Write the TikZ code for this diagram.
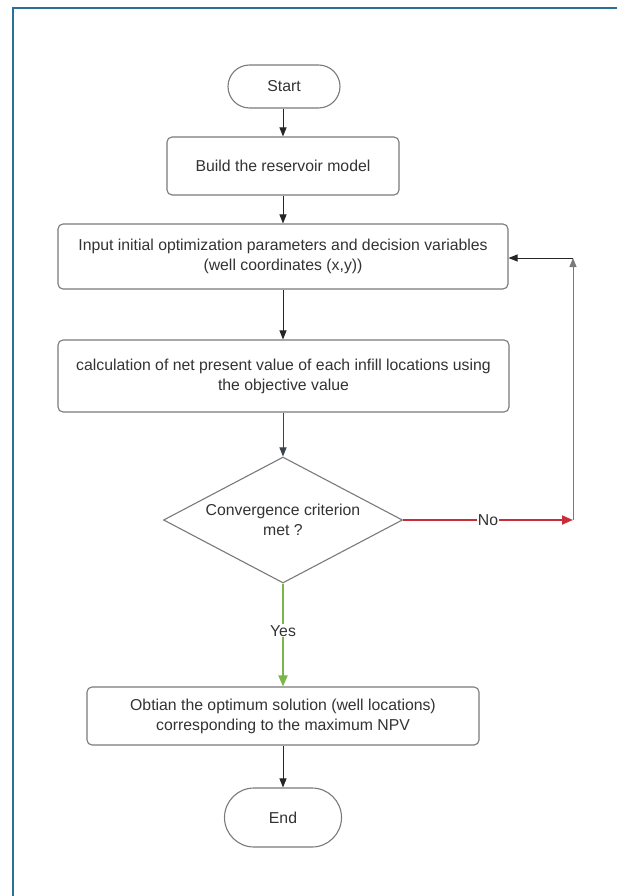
\documentclass[tikz,border=0pt]{standalone}
\usepackage{fontspec}
\setmainfont{Liberation Sans}
\usetikzlibrary{shapes.geometric,shapes.misc,arrows.meta}
\definecolor{frameblue}{HTML}{2B7096}
\definecolor{boxgray}{HTML}{7A7A7A}
\definecolor{txt}{HTML}{333333}
\definecolor{lred}{HTML}{C92D39}
\definecolor{lgreen}{HTML}{7AB648}
\definecolor{slate}{HTML}{3A4450}
\tikzset{
  every node/.style={font=\fontsize{15.8pt}{20pt}\selectfont, text=txt},
  procbox/.style={draw=boxgray, line width=1.1pt, rounded corners=5pt, align=center, inner sep=0pt, fill=white},
  terminal/.style={draw=boxgray, line width=1.1pt, rounded rectangle, align=center, inner sep=0pt, fill=white},
  decision/.style={draw=boxgray, line width=1.1pt, diamond, aspect=1.9, align=center, inner sep=0pt, fill=white},
  flow/.style={line width=1pt, draw=black!85, -{Triangle[length=9pt,width=7pt]}},
  lbl/.style={fill=white, inner sep=1pt}
}
\begin{document}
\begin{tikzpicture}[x=1pt,y=-1pt]
\useasboundingbox (0,0) rectangle (616,896);
\fill[white] (0,0) rectangle (616,896);
\draw[frameblue, line width=1.6pt] (13,900) -- (13,8) -- (620,8);

\node[terminal, minimum width=112pt, minimum height=43pt] (start) at (284,86.5) {Start};
\node[procbox, minimum width=232pt, minimum height=58pt] (build) at (283,166) {Build the reservoir model};
\node[procbox, minimum width=450pt, minimum height=65pt] (input) at (283,256.5) {Input initial optimization parameters and decision variables\\(well coordinates (x,y))};
\node[procbox, minimum width=451pt, minimum height=72pt] (calc) at (283.5,376) {calculation of net present value of each infill locations using\\the objective value};
\node[decision, minimum width=239pt, minimum height=126pt] (conv) at (283,520) {Convergence criterion\\met ?};
\node[procbox, minimum width=392pt, minimum height=58pt] (opt) at (283,716) {Obtian the optimum solution (well locations)\\corresponding to the maximum NPV};
\node[terminal, minimum width=117pt, minimum height=59pt] (end) at (283,817.5) {End};

\coordinate (c1) at (573,520);
\coordinate (c2) at (573,258);

\draw[flow] (start.south -| build.north) -- (build.north);
\draw[flow] (build.south) -- (input.north);
\draw[flow] (input.south) -- (calc.north -| input.south);
\draw[flow, draw=slate] (calc.south -| conv.north) -- (conv.north);
\draw[flow, draw=lred, line width=1.8pt, -{Triangle[length=11pt,width=9pt]}] (conv.east) -- node[lbl, pos=0.5] {No} (c1);
\draw[flow, draw=boxgray] (c1) -- (c2);
\draw[flow] (c2) -- (c2 -| input.east);
\draw[flow, draw=lgreen, line width=1.8pt, -{Triangle[length=11pt,width=9pt]}] (conv.south) -- node[lbl, pos=0.46] {Yes} (opt.north);
\draw[flow] (opt.south) -- (end.north);
\end{tikzpicture}
\end{document}
